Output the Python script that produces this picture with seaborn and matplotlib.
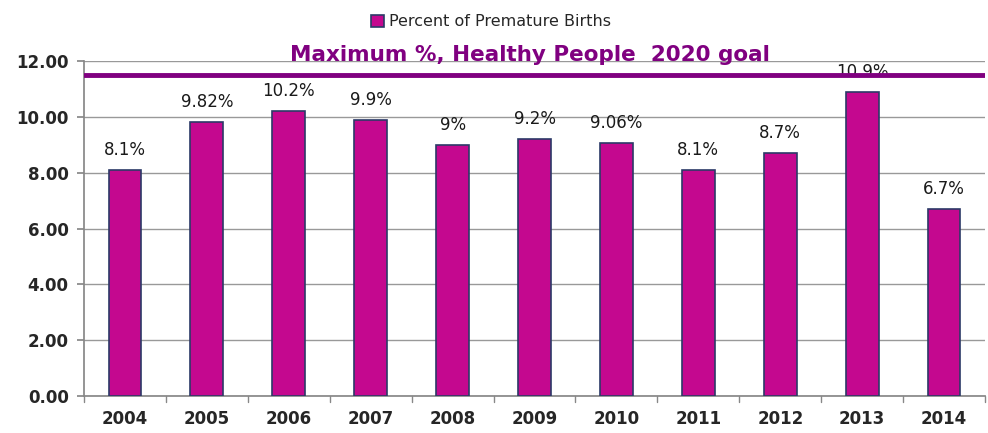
import matplotlib
matplotlib.use("Agg")
import matplotlib.pyplot as plt
import seaborn as sns
import pandas as pd

# --- DATA ---
years = ["2004", "2005", "2006", "2007", "2008", "2009", "2010", "2011", "2012", "2013", "2014"]
percent_premature = [8.1, 9.82, 10.2, 9.9, 9.0, 9.2, 9.06, 8.1, 8.7, 10.9, 6.7]
bar_labels = ["8.1%", "9.82%", "10.2%", "9.9%", "9%", "9.2%", "9.06%", "8.1%", "8.7%", "10.9%", "6.7%"]
goal_value = 11.5
y_ticks = [0, 2, 4, 6, 8, 10, 12]

df = pd.DataFrame({"Year": years, "Percent": percent_premature})

# --- STYLE ---
sns.set_theme(style="white")
plt.rcParams['font.family'] = ['DejaVu Sans']

fig = plt.figure(figsize=(9.88, 4.33), dpi=100)
ax = fig.add_axes([0.085, 0.085, 0.912, 0.774])

bar_color = "#C4088F"
sns.barplot(data=df, x="Year", y="Percent", color=bar_color, width=0.4,
            edgecolor="#2B3A67", linewidth=1.2, saturation=1,
            label="Percent of Premature Births", ax=ax, zorder=3)

# data labels
for i, (v, lab) in enumerate(zip(percent_premature, bar_labels)):
    ax.annotate(lab, (i, v), xytext=(0, 8), textcoords="offset points",
                ha="center", va="bottom", fontsize=12, color="#1a1a1a", zorder=2)

# goal line
ax.axhline(goal_value, color="#800080", linewidth=3.5, zorder=5)
ax.text(4.95, 12.0, "Maximum %, Healthy People  2020 goal", color="#800080",
        fontsize=15.5, fontweight="bold", ha="center", va="baseline", zorder=6)

# axes
ax.set_ylim(0, 12)
ax.set_yticks(y_ticks)
ax.set_yticklabels([f"{t:.2f}" for t in y_ticks], fontsize=12, fontweight="bold")
ax.set_xlim(-0.5, len(years) - 0.5)
ax.set_xticks(range(len(years)))
ax.set_xticklabels(years, fontsize=12, fontweight="bold")
ax.tick_params(axis="x", length=0, pad=10)
ax.tick_params(axis="y", length=5, color="#888888", left=True, pad=6)
for b in [i - 0.5 for i in range(len(years) + 1)]:
    ax.plot([b, b], [0, -0.2], color="#888888", linewidth=1, clip_on=False)
ax.yaxis.grid(True, color="#999999", linewidth=1)
ax.set_axisbelow(True)
ax.set_xlabel("")
ax.set_ylabel("")
for s in ["top", "right"]:
    ax.spines[s].set_visible(False)
ax.spines["left"].set_color("#888888")
ax.spines["bottom"].set_color("#888888")

handles, labels = ax.get_legend_handles_labels()
if ax.get_legend() is not None:
    ax.get_legend().remove()
fig.legend(handles, labels, loc="upper center", bbox_to_anchor=(0.497, 1.0), frameon=False,
           fontsize=11.5, handlelength=0.8, handleheight=0.8, handletextpad=0.3)

fig.savefig("out.png", dpi=100)
